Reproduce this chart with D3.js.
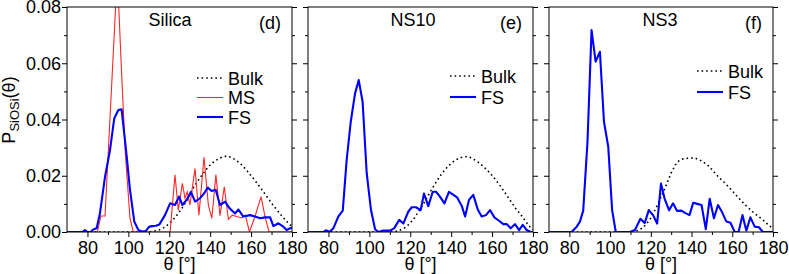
<!DOCTYPE html>
<html><head><meta charset="utf-8">
<script src="https://cdn.jsdelivr.net/npm/d3@7"></script>
<style>
body{margin:0;background:#fff}
svg{display:block}
text{font-family:"Liberation Sans",Arial,Helvetica,sans-serif}
</style>
</head><body>
<svg id="chart" width="789" height="274"></svg>
<script>
// ---------------- DATA ----------------
const panelNames = ["Silica", "NS10", "NS3"];
const panelTags = ["(d)", "(e)", "(f)"];
const xTickLabels = [80, 100, 120, 140, 160, 180];
const yTickLabels = [0.00, 0.02, 0.04, 0.06, 0.08];

// Bulk distributions (theta grid shared)
const bulkTheta = [70,110,112,114,116,118,120,122,124,126,128,130,132,134,136,138,140,142,144,146,148,150,152,154,156,158,160,162,164,166,168,170,172,174,176,178,180];
const silicaBulk = [0,0,0.0002,0.0005,0.001,0.0018,0.003,0.0045,0.0062,0.0082,0.0105,0.013,0.016,0.0182,0.0202,0.0222,0.0238,0.0251,0.026,0.0267,0.027,0.0266,0.0258,0.0248,0.0234,0.0218,0.02,0.0182,0.0163,0.0143,0.0123,0.0103,0.0084,0.0066,0.0049,0.0033,0.002];
const ns10Bulk = [0,0,0.0001,0.0004,0.001,0.0018,0.0032,0.005,0.0072,0.0095,0.012,0.0146,0.017,0.0193,0.0213,0.023,0.0244,0.0255,0.0263,0.0267,0.0268,0.0263,0.0254,0.0244,0.0231,0.0217,0.0201,0.0183,0.0164,0.0143,0.0122,0.01,0.0079,0.0062,0.0042,0.0022,0.0008];
const ns3Bulk = [0,0,0.0002,0.0006,0.0015,0.003,0.005,0.0077,0.0108,0.014,0.0175,0.021,0.0238,0.0255,0.026,0.0262,0.0263,0.0262,0.0256,0.0248,0.0237,0.0222,0.0205,0.019,0.0177,0.0162,0.0146,0.013,0.0114,0.0099,0.0085,0.0072,0.006,0.0049,0.0037,0.0023,0.0012];

// Silica MS (theta, P)
const silicaMS = [[70,0],[84.8,0],[86.6,0.0057],[88.6,0.0057],[94.6,0.092],[96.6,0.058],[98.6,0.027],[100.8,0.0049],[102.4,0],[120.4,0],[122.8,0.0203],[124.4,0.0078],[126.4,0.0173],[127.7,0.012],[128.8,0.0143],[130.1,0.0096],[132.6,0.0226],[134.5,0.006],[137,0.0266],[139.1,0.0096],[140.8,0.0049],[142.8,0.0204],[144.8,0.0058],[146.9,0.0161],[148.9,0.0045],[150.8,0.006],[153,0.0055],[155.4,0.005],[157.2,0.006],[159.2,0],[161.9,0.0055],[164.9,0.0126],[166.8,0.0055],[168.8,0],[180,0]];

// Silica FS
const silicaFS = [[70,0],[77.5,0],[78.8,0.0007],[80,0],[81.5,0],[83,0.001],[84.5,0.0013],[86.1,0.0066],[88.6,0.0197],[91,0.029],[93.1,0.0404],[95.1,0.0434],[96.7,0.0436],[99.2,0.0268],[100.8,0.015],[102.9,0.0037],[104.9,0.0007],[106.5,0.0002],[108.5,0.0003],[110.2,0.0019],[111.8,0.0021],[113.4,0.0022],[115.2,0.0027],[117.9,0.006],[120.4,0.0102],[122.8,0.0096],[124.8,0.0126],[126.4,0.0096],[128.5,0.0114],[130.6,0.0143],[132.6,0.0108],[135,0.012],[137.1,0.0138],[138.8,0.0158],[140.7,0.0146],[142.7,0.015],[144.8,0.0096],[147.3,0.0108],[149.5,0.0084],[152.2,0.0066],[153.8,0.008],[156.2,0.0055],[159.5,0.006],[161.9,0.0055],[164.4,0.0049],[166.8,0.0052],[169.3,0.0052],[170.9,0.0021],[173.3,0.0031],[175.8,0.0019],[177.4,0.0007],[179,0.0013],[180,0.0015]];

// NS10 FS
const ns10FS = [[70,0],[77.5,0],[78.8,0.0006],[80.5,0],[82.4,0.0013],[84.8,0.0055],[87,0.0076],[88.9,0.0256],[90.9,0.0392],[93,0.0493],[94.8,0.054],[96.7,0.0463],[98.7,0.0209],[100.8,0.0078],[102.8,0.001],[104.4,0],[106.8,0.0005],[110.1,0.0005],[112.1,0.0013],[114.6,0.0043],[116.6,0.003],[119,0.0072],[120.7,0.0088],[122.8,0.0088],[125.1,0.0078],[126.7,0.0137],[128.8,0.0092],[131,0.0143],[132.6,0.0143],[134.5,0.0126],[136.7,0.0102],[138.9,0.0143],[141.1,0.0132],[143,0.0122],[145.2,0.0092],[146.8,0.0055],[148.7,0.0114],[150.8,0.0132],[153,0.008],[154.9,0.0055],[157,0.006],[159,0.0078],[161.1,0.0052],[163.4,0.004],[165.5,0.0028],[167.2,0.0028],[169.1,0.0013],[171.2,0.0028],[173.2,0.0007],[175,0.0025],[176.9,0.0007],[178.9,0],[180,0]];

// NS3 FS
const ns3FS = [[70,0],[81.1,0],[83.6,0.0019],[85.2,0.0037],[86.8,0.0076],[88.9,0.032],[90.9,0.0718],[92.9,0.0606],[95,0.0641],[97,0.0392],[99.1,0.0303],[101,0.0078],[102.8,0],[109.7,0],[112.2,0.0007],[114.9,0.0047],[117,0.0032],[119,0.0078],[121.1,0.006],[123.1,0.003],[125,0.0172],[126.8,0.0118],[129,0.0077],[130.9,0.0102],[132.9,0.0075],[135,0.0076],[136.8,0.0068],[139,0.006],[140.8,0.0104],[142.8,0.01],[144.9,0.0096],[147,0.001],[148.9,0.0118],[151,0.0049],[153,0.0096],[155.1,0.0069],[157.1,0.0037],[159.1,0.0033],[161.2,0],[163.1,0],[165,0.006],[166.9,0.0005],[168.9,0.0052],[171,0.0019],[173.1,0.0017],[175,0],[180,0]];

// ---------------- LAYOUT ----------------
const svg = d3.select("#chart");
const TOP = 7, BOTTOM = 232;
const frames = [{l:67, r:292}, {l:308, r:533}, {l:549, r:773}];
const titleX = [170, 413, 660];
const legendPos = [{x:197, y:78}, {x:450, y:76}, {x:697, y:71}];
const BLUE = "#0000ff", RED = "#ff2626";

const bulkSeries = [silicaBulk, ns10Bulk, ns3Bulk].map(arr => arr.map((v, i) => [bulkTheta[i], v]));
const fsSeries = [silicaFS, ns10FS, ns3FS];

const y = d3.scaleLinear().domain([0, 0.08]).range([BOTTOM, TOP]);

function styleAxis(g) {
  g.select(".domain").remove();
  g.selectAll("text").attr("font-size", 18).attr("font-family", '"Liberation Sans", Arial, sans-serif').attr("fill", "#000");
  g.selectAll("line").attr("stroke", "#000");
}

frames.forEach((f, i) => {
  const x = d3.scaleLinear().domain([70, 180]).range([f.l, f.r]);
  const line = d3.line().x(d => x(d[0])).y(d => y(d[1]));
  const clipId = "clip" + i;
  svg.append("clipPath").attr("id", clipId).append("rect")
    .attr("x", f.l).attr("y", TOP).attr("width", f.r - f.l).attr("height", BOTTOM - TOP);
  const plot = svg.append("g").attr("clip-path", `url(#${clipId})`);

  plot.append("path").datum(bulkSeries[i]).attr("d", line)
    .attr("fill", "none").attr("stroke", "#000").attr("stroke-width", 1.6)
    .attr("stroke-dasharray", "1.6,3");
  if (i === 0) {
    plot.append("path").datum(silicaMS).attr("d", line)
      .attr("fill", "none").attr("stroke", RED).attr("stroke-width", 1.1);
  }
  plot.append("path").datum(fsSeries[i]).attr("d", line)
    .attr("fill", "none").attr("stroke", BLUE).attr("stroke-width", 2.1).attr("stroke-linejoin", "round");

  // axes
  const gb = svg.append("g").attr("transform", `translate(0,${BOTTOM})`)
    .call(d3.axisBottom(x).tickValues(xTickLabels).tickSize(5).tickPadding(4).tickFormat(d3.format("d")));
  styleAxis(gb);
  const gbm = svg.append("g").attr("transform", `translate(0,${BOTTOM})`)
    .call(d3.axisBottom(x).tickValues([90,110,130,150,170]).tickSize(3).tickFormat(""));
  styleAxis(gbm);

  const gl = svg.append("g").attr("transform", `translate(${f.l},0)`)
    .call(d3.axisLeft(y).tickValues(yTickLabels).tickSize(5).tickPadding(1)
      .tickFormat(i === 0 ? d3.format(".2f") : ""));
  styleAxis(gl);
  const glm = svg.append("g").attr("transform", `translate(${f.l},0)`)
    .call(d3.axisLeft(y).tickValues([0.01,0.03,0.05,0.07]).tickSize(3).tickFormat(""));
  styleAxis(glm);
  const gr = svg.append("g").attr("transform", `translate(${f.r},0)`)
    .call(d3.axisRight(y).tickValues(yTickLabels).tickSize(5).tickFormat(""));
  styleAxis(gr);
  const grm = svg.append("g").attr("transform", `translate(${f.r},0)`)
    .call(d3.axisRight(y).tickValues([0.01,0.03,0.05,0.07]).tickSize(3).tickFormat(""));
  styleAxis(grm);

  // frame
  svg.append("rect").attr("x", f.l).attr("y", TOP).attr("width", f.r - f.l).attr("height", BOTTOM - TOP)
    .attr("fill", "none").attr("stroke", "#000").attr("stroke-width", 1);

  // titles
  svg.append("text").attr("x", titleX[i]).attr("y", 26).attr("text-anchor", "middle")
    .attr("font-size", 18).text(panelNames[i]);
  svg.append("text").attr("x", f.r - 11).attr("y", 29).attr("text-anchor", "end")
    .attr("font-size", 18).text(panelTags[i]);

  // x label
  svg.append("text").attr("x", (f.l + f.r) / 2).attr("y", 270).attr("text-anchor", "middle")
    .attr("font-size", 18).text("θ [°]");

  // legend
  const lp = legendPos[i];
  const items = i === 0
    ? [{n:"Bulk", c:"#000", w:1.6, dash:"1.6,3"}, {n:"MS", c:RED, w:1.1, dash:null}, {n:"FS", c:BLUE, w:2.1, dash:null}]
    : [{n:"Bulk", c:"#000", w:1.6, dash:"1.6,3"}, {n:"FS", c:BLUE, w:2.1, dash:null}];
  const step = i === 0 ? 19.5 : 21;
  items.forEach((it, k) => {
    const yy = lp.y + k * step;
    const ln = svg.append("line").attr("x1", lp.x).attr("x2", lp.x + 26).attr("y1", yy).attr("y2", yy)
      .attr("stroke", it.c).attr("stroke-width", it.w);
    if (it.dash) ln.attr("stroke-dasharray", it.dash);
    svg.append("text").attr("x", lp.x + 31).attr("y", yy + 6.5).attr("font-size", 18).text(it.n);
  });
});

// y-axis title
const yt = svg.append("text").attr("transform", "translate(15,110) rotate(-90)")
  .attr("text-anchor", "middle").attr("font-size", 18);
yt.append("tspan").text("P");
yt.append("tspan").attr("font-size", 13).attr("dy", 4).text("SiOSi");
yt.append("tspan").attr("dy", -4).text("(θ)");
</script>
</body></html>
